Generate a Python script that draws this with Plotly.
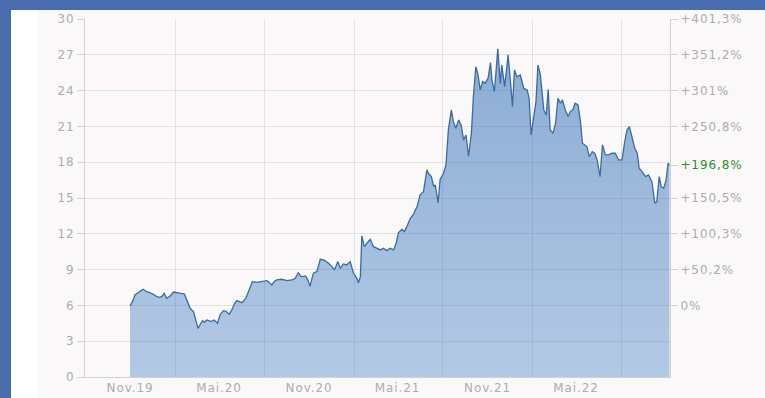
import plotly.graph_objects as go

dates = [
    "2019-11-01", "2019-11-07", "2019-11-11", "2019-11-17", "2019-11-22", "2019-11-28",
    "2019-12-05", "2019-12-10", "2019-12-15", "2019-12-20", "2019-12-26", "2020-01-01",
    "2020-01-05", "2020-01-10", "2020-01-15", "2020-01-22", "2020-01-29", "2020-02-03",
    "2020-02-08", "2020-02-13", "2020-02-20", "2020-02-25", "2020-02-29", "2020-03-03",
    "2020-03-10", "2020-03-14", "2020-03-19", "2020-03-23", "2020-03-28", "2020-04-01",
    "2020-04-06", "2020-04-11", "2020-04-15", "2020-04-21", "2020-04-28", "2020-05-03",
    "2020-05-10", "2020-05-15", "2020-05-22", "2020-05-27", "2020-06-01", "2020-06-06",
    "2020-06-11", "2020-06-17", "2020-06-25", "2020-06-30", "2020-07-04", "2020-07-08",
    "2020-07-17", "2020-07-27", "2020-08-07", "2020-08-11", "2020-08-17", "2020-08-22",
    "2020-08-27", "2020-09-06", "2020-09-17", "2020-09-27", "2020-10-04", "2020-10-10",
    "2020-10-15", "2020-10-19", "2020-10-25", "2020-10-30", "2020-11-03", "2020-11-10",
    "2020-11-17", "2020-11-21", "2020-11-24", "2020-12-01", "2020-12-06", "2020-12-11",
    "2020-12-18", "2020-12-23", "2020-12-30", "2021-01-04", "2021-01-10", "2021-01-17",
    "2021-01-24", "2021-01-31", "2021-02-07", "2021-02-10", "2021-02-14", "2021-02-17",
    "2021-02-22", "2021-02-27", "2021-03-06", "2021-03-13", "2021-03-20", "2021-03-27",
    "2021-04-02", "2021-04-09", "2021-04-16", "2021-04-23", "2021-04-28", "2021-05-03",
    "2021-05-10", "2021-05-15", "2021-05-21", "2021-05-27", "2021-06-02", "2021-06-10",
    "2021-06-16", "2021-06-23", "2021-06-30", "2021-07-03", "2021-07-09", "2021-07-14",
    "2021-07-17", "2021-07-23", "2021-07-27", "2021-08-03", "2021-08-08", "2021-08-13",
    "2021-08-19", "2021-08-23", "2021-08-28", "2021-09-03", "2021-09-08", "2021-09-13",
    "2021-09-18", "2021-09-23", "2021-09-29", "2021-10-03", "2021-10-08", "2021-10-12",
    "2021-10-17", "2021-10-22", "2021-10-27", "2021-11-02", "2021-11-07", "2021-11-10",
    "2021-11-15", "2021-11-22", "2021-11-27", "2021-11-30", "2021-12-06", "2021-12-13",
    "2021-12-17", "2021-12-22", "2021-12-26", "2021-12-31", "2022-01-07", "2022-01-14",
    "2022-01-21", "2022-01-25", "2022-01-29", "2022-02-03", "2022-02-08", "2022-02-12",
    "2022-02-17", "2022-02-24", "2022-03-01", "2022-03-05", "2022-03-09", "2022-03-15",
    "2022-03-20", "2022-03-25", "2022-03-30", "2022-04-03", "2022-04-09", "2022-04-15",
    "2022-04-19", "2022-04-24", "2022-04-29", "2022-05-05", "2022-05-10", "2022-05-14",
    "2022-05-20", "2022-05-23", "2022-05-28", "2022-06-03", "2022-06-08", "2022-06-13",
    "2022-06-19", "2022-06-24", "2022-06-30", "2022-07-07", "2022-07-13", "2022-07-20",
    "2022-07-27", "2022-08-03", "2022-08-08", "2022-08-13", "2022-08-18", "2022-08-23",
    "2022-08-29", "2022-09-03", "2022-09-07", "2022-09-13", "2022-09-20", "2022-09-26",
    "2022-10-03", "2022-10-09", "2022-10-13", "2022-10-18", "2022-10-22", "2022-10-27",
    "2022-11-01", "2022-11-05", "2022-11-08",
]

prices = [
    5.95, 6.4, 6.87, 7.07, 7.2, 7.35,
    7.15, 7.1, 7.01, 6.9, 6.73, 6.68,
    6.75, 7.01, 6.6, 6.79, 7.12, 7.1,
    7.07, 7.0, 6.96, 6.51, 6.1, 5.76,
    5.47, 4.78, 4.08, 4.36, 4.72, 4.6,
    4.78, 4.7, 4.64, 4.78, 4.5, 5.2,
    5.56, 5.5, 5.25, 5.6, 6.1, 6.4,
    6.3, 6.23, 6.6, 7.15, 7.6, 7.99,
    7.93, 7.99, 8.07, 7.95, 7.71, 8.0,
    8.13, 8.19, 8.07, 8.13, 8.27, 8.74,
    8.45, 8.41, 8.47, 8.1, 7.6, 8.7,
    8.83, 9.4, 9.86, 9.81, 9.7, 9.53,
    9.25, 8.97, 9.67, 9.11, 9.47, 9.39,
    9.67, 8.69, 8.27, 7.9, 8.41, 11.82,
    10.92, 11.15, 11.54, 10.92, 10.79, 10.65,
    10.79, 10.59, 10.79, 10.65, 11.2, 12.1,
    12.37, 12.18, 12.7, 13.3, 13.6, 14.28,
    15.26, 15.53, 17.35, 17.07, 16.79, 15.95,
    16.1, 14.6, 16.56, 17.07, 17.77, 20.76,
    22.38, 21.4, 20.84, 21.54, 21.12, 19.87,
    20.28, 18.5, 20.43, 23.5, 26.0, 25.45,
    24.06, 24.75, 24.61, 25.03, 26.35, 24.9,
    23.92, 27.5, 24.6, 26.15, 24.33, 26.99,
    25.17, 22.66, 25.73, 25.17, 25.31, 24.2,
    24.06, 23.36, 20.28, 21.68, 23.08, 26.15,
    25.31, 22.38, 21.96, 24.1, 20.7, 20.43,
    21.26, 23.36, 22.94, 23.22, 22.38, 21.82,
    22.24, 22.38, 22.94, 22.8, 21.4, 19.59,
    19.38, 19.31, 18.46, 18.89, 18.75, 18.19,
    16.79, 19.45, 18.61, 18.61, 18.75, 18.75,
    18.19, 18.19, 19.59, 20.7, 20.98, 20.14,
    19.17, 18.75, 17.49, 17.21, 16.79, 16.93,
    16.37, 14.56, 14.7, 16.79, 15.95, 15.81,
    16.51, 17.91, 17.76,
]

y_ticks = [0, 3, 6, 9, 12, 15, 18, 21, 24, 27, 30]
y_tick_text = ["0", "3", "6", "9", "12", "15", "18", "21", "24", "27", "30"]
x_label_dates = ["2019-11-01", "2020-05-01", "2020-11-01", "2021-05-01", "2021-11-01", "2022-05-01"]
x_label_text = ["Nov.19", "Mai.20", "Nov.20", "Mai.21", "Nov.21", "Mai.22"]
x_grid_dates = ["2020-02-01", "2020-08-01", "2021-02-01", "2021-08-01", "2022-02-01", "2022-08-01"]
pct_vals = [6, 9, 12, 15, 17.76, 21, 24, 27, 30]
pct_text = ["0%", "+50,2%", "+100,3%", "+150,5%", "+196,8%",
            "+250,8%", "+301%", "+351,2%", "+401,3%"]
pct_highlight = "+196,8%"
x_range = ["2019-08-01", "2022-11-09"]

grid_c = "#e2e0e1"
axis_c = "#d3d1d2"
label_c = "#aeacad"
green = "#2f8a2f"
tick_font = dict(family="DejaVu Sans", size=12, color=label_c)


def spaced(t, color=None):
    style = "letter-spacing:0.9px"
    if color:
        style += ";color:" + color
    return "<span style='" + style + "'>" + t + "</span>"


fig = go.Figure()
fig.add_trace(go.Scatter(
    x=dates, y=prices, mode="lines", fill="tozeroy",
    line=dict(color="#3a6ca2", width=1.3),
    fillgradient=dict(type="vertical", start=0, stop=28,
                      colorscale=[[0, "rgba(40,110,190,0.34)"], [1, "rgba(36,100,175,0.52)"]]),
    hoverinfo="skip", showlegend=False,
))
fig.add_trace(go.Scatter(x=dates, y=prices, xaxis="x2", yaxis="y2", mode="lines",
                         opacity=0, hoverinfo="skip", showlegend=False))
fig.add_trace(go.Scatter(x=dates, y=prices, xaxis="x2", yaxis="y3", mode="lines",
                         opacity=0, hoverinfo="skip", showlegend=False))

bg = "#faf8f9"
blue = "#4a6cae"
W, H = 765, 398
L, R, T, B = 85, 95, 19, 21
pw, ph = W - L - R, H - T - B


def px(x):
    return (x - L) / pw


def py(y):
    return (H - B - y) / ph


shapes = [
    dict(type="rect", xref="paper", yref="paper", x0=px(-5), x1=px(11), y0=py(H + 5), y1=py(-5),
         fillcolor=blue, line_width=0, layer="below"),
    dict(type="rect", xref="paper", yref="paper", x0=px(-5), x1=px(W + 5), y0=py(10), y1=py(-5),
         fillcolor=blue, line_width=0, layer="below"),
    dict(type="rect", xref="paper", yref="paper", x0=px(11), x1=px(38), y0=py(H + 5), y1=py(10),
         fillcolor="white", line_width=0, layer="below"),
]

fig.update_layout(
    width=W, height=H, margin=dict(l=L, r=R, t=T, b=B, autoexpand=False),
    paper_bgcolor=bg, plot_bgcolor=bg, showlegend=False,
    shapes=shapes,
    xaxis=dict(type="date", range=x_range, tickmode="array", tickvals=x_label_dates,
               ticktext=[spaced(t) for t in x_label_text], showgrid=False, showline=True,
               linecolor=axis_c, ticks="", tickfont=tick_font, zeroline=False,
               automargin=False, fixedrange=True),
    xaxis2=dict(type="date", range=x_range, overlaying="x", anchor="y", tickmode="array",
                tickvals=x_grid_dates, showgrid=True, gridcolor=grid_c, showticklabels=False,
                ticks="", showline=False, zeroline=False, automargin=False),
    yaxis=dict(range=[0, 30], tickmode="array", tickvals=y_ticks,
               ticktext=[spaced(t) for t in y_tick_text], showgrid=False,
               showline=True, linecolor=axis_c, ticks="outside", ticklen=7, tickcolor=axis_c,
               tickfont=tick_font, zeroline=False, automargin=False),
    yaxis2=dict(range=[0, 30], overlaying="y", anchor="x2", side="right", tickmode="array",
                tickvals=pct_vals,
                ticktext=[spaced(t, green if t == pct_highlight else None) for t in pct_text],
                showgrid=False, showline=True,
                linecolor=axis_c, ticks="outside", ticklen=7, tickcolor=axis_c,
                tickfont=tick_font, zeroline=False, automargin=False),
    yaxis3=dict(range=[0, 30], overlaying="y", anchor="x2", tickmode="array",
                tickvals=y_ticks[1:-1], showgrid=True, gridcolor=grid_c, showticklabels=False,
                ticks="", showline=False, zeroline=False, automargin=False),
)

fig.write_html("out.html", config={"displayModeBar": False})
